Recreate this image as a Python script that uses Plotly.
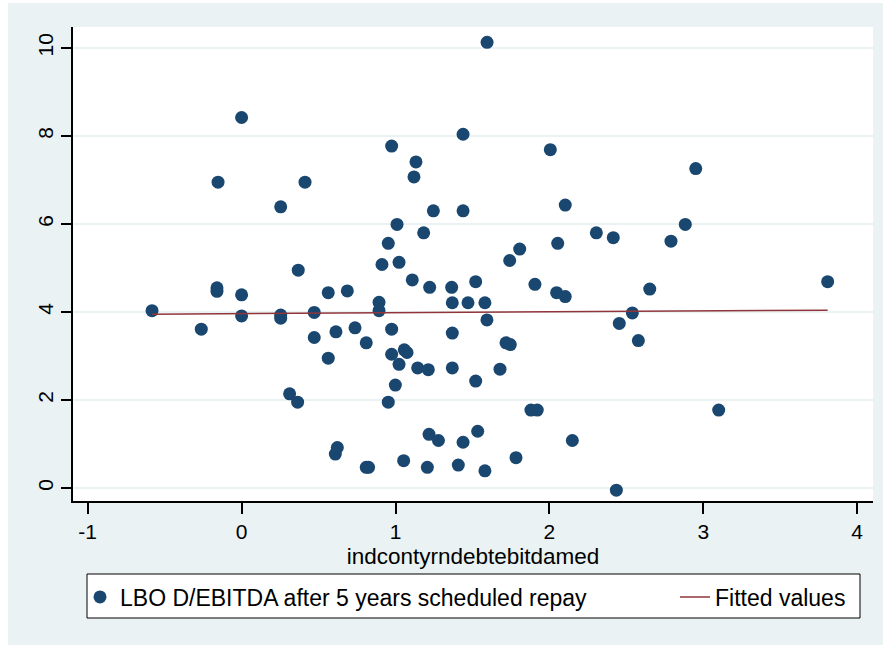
import plotly.graph_objects as go

# Scatter data: x = indcontyrndebtebitdamed, y = LBO D/EBITDA after 5 years scheduled repay
x_vals = [
    0.000, -0.153, 0.412, 0.254, 0.975, 1.133, 1.120, 1.246, 1.010, 1.183,
    0.953, 0.912, 1.023, 0.368, 1.595, 1.439, 2.006, 2.951, 2.103, 1.439,
    2.883, 2.305, 2.415, 2.054, 2.790, 1.807, 1.742, -0.582, -0.262, -0.160,
    -0.160, 0.000, 0.000, 0.254, 0.254, 0.472, 0.472, 0.563, 0.687, 0.613,
    0.737, 0.563, 0.810, 0.312, 0.364, 0.622, 0.609, 0.810, 0.825, 0.893,
    0.893, 0.975, 0.975, 1.057, 1.075, 1.023, 1.144, 1.213, 0.999, 0.953,
    1.218, 1.279, 1.053, 1.207, 1.109, 1.222, 1.365, 1.369, 1.471, 1.581,
    1.521, 1.594, 1.369, 1.718, 1.746, 1.369, 1.521, 1.679, 1.906, 2.047,
    2.103, 2.652, 3.808, 2.539, 2.454, 2.578, 1.880, 1.921, 3.100, 1.534,
    1.439, 2.149, 1.783, 1.408, 1.581, 2.435,
]
y_vals = [
    8.42, 6.95, 6.95, 6.39, 7.77, 7.41, 7.07, 6.30, 5.99, 5.80,
    5.56, 5.08, 5.13, 4.95, 10.13, 8.04, 7.69, 7.26, 6.43, 6.30,
    5.99, 5.80, 5.69, 5.56, 5.61, 5.43, 5.17, 4.03, 3.61, 4.47,
    4.55, 4.39, 3.91, 3.93, 3.86, 3.99, 3.42, 4.44, 4.48, 3.55,
    3.64, 2.95, 3.30, 2.14, 1.95, 0.92, 0.77, 0.47, 0.47, 4.22,
    4.03, 3.61, 3.04, 3.14, 3.08, 2.81, 2.73, 2.69, 2.34, 1.95,
    1.22, 1.08, 0.62, 0.47, 4.73, 4.56, 4.56, 4.21, 4.21, 4.21,
    4.69, 3.82, 3.52, 3.30, 3.26, 2.73, 2.43, 2.70, 4.63, 4.44,
    4.35, 4.52, 4.69, 3.98, 3.74, 3.35, 1.77, 1.77, 1.77, 1.29,
    1.04, 1.08, 0.69, 0.52, 0.39, -0.05,
]

# Fitted values line (end points)
fit_x = [-0.582, 3.808]
fit_y = [3.95, 4.04]

x_ticks = [-1, 0, 1, 2, 3, 4]
y_ticks = [0, 2, 4, 6, 8, 10]

scatter_name = "LBO D/EBITDA after 5 years scheduled repay"
fit_name = "Fitted values"
x_title = "indcontyrndebtebitdamed"

NAVY = "#1A476F"
MAROON = "#90353B"
BG = "#EAF2F3"
FONT = "Liberation Sans, Arial, sans-serif"

fig = go.Figure()
fig.add_trace(go.Scatter(
    x=x_vals, y=y_vals, mode="markers", name=scatter_name,
    marker=dict(color=NAVY, size=13, line=dict(width=0)),
    legend="legend",
))
fig.add_trace(go.Scatter(
    x=fit_x, y=fit_y, mode="lines", name=fit_name,
    line=dict(color=MAROON, width=1.5),
    legend="legend2",
))

# plot area: x 73..873, y 27..501 in page pixels
L, R, T, B = 73, 10, 27, 144
W, H = 883, 645
pw, ph = W - L - R, H - T - B

def px_x(p):
    return (p - L) / pw

def px_y(p):
    return (H - B - p) / ph

# graph region background
fig.add_shape(type="rect", xref="paper", yref="paper", layer="below",
              x0=px_x(8), x1=px_x(883), y0=px_y(645), y1=px_y(3),
              fillcolor=BG, line=dict(width=0))
# plot region
fig.add_shape(type="rect", xref="paper", yref="paper", layer="below",
              x0=0, x1=1, y0=0, y1=1,
              fillcolor="white", line=dict(width=0))
# legend frame
fig.add_shape(type="rect", xref="paper", yref="paper", layer="below",
              x0=px_x(87), x1=px_x(860), y0=px_y(618), y1=px_y(574),
              fillcolor="white", line=dict(color="black", width=1))

legend_common = dict(
    orientation="h",
    bgcolor="rgba(0,0,0,0)", borderwidth=0,
    font=dict(family=FONT, size=23, color="black"),
    yanchor="middle", y=px_y(597),
    xanchor="left",
)

fig.update_layout(
    width=W, height=H,
    margin=dict(l=L, r=R, t=T, b=B, pad=0, autoexpand=False),
    paper_bgcolor="white", plot_bgcolor="white",
    font=dict(family=FONT, size=21, color="black"),
    showlegend=True,
    legend=dict(legend_common, x=px_x(80)),
    legend2=dict(legend_common, x=px_x(675)),
)

fig.update_xaxes(
    range=[(L - 241.6) / 153.9, (873 - 241.6) / 153.9],
    tickvals=x_ticks, ticktext=[str(v) for v in x_ticks],
    showgrid=False, zeroline=False, automargin=False,
    showline=True, linecolor="black", linewidth=2,
    ticks="outside", ticklen=11, tickwidth=1.5, tickcolor="black",
    tickfont=dict(size=21),
    title=dict(text=x_title, font=dict(size=22.5), standoff=6),
)
fig.update_yaxes(
    range=[(488 - 501) / 44, (488 - 27) / 44],
    tickvals=y_ticks, ticktext=[str(v) for v in y_ticks],
    showgrid=True, gridcolor=BG, gridwidth=1.5,
    zeroline=False, automargin=False,
    showline=True, linecolor="black", linewidth=2,
    ticks="outside", ticklen=10, tickwidth=1.5, tickcolor="black",
    tickangle=-90, tickfont=dict(size=21),
)

fig.write_html(
    "out.html",
    config={"displayModeBar": False},
    post_script="document.body.style.margin='0';",
)
